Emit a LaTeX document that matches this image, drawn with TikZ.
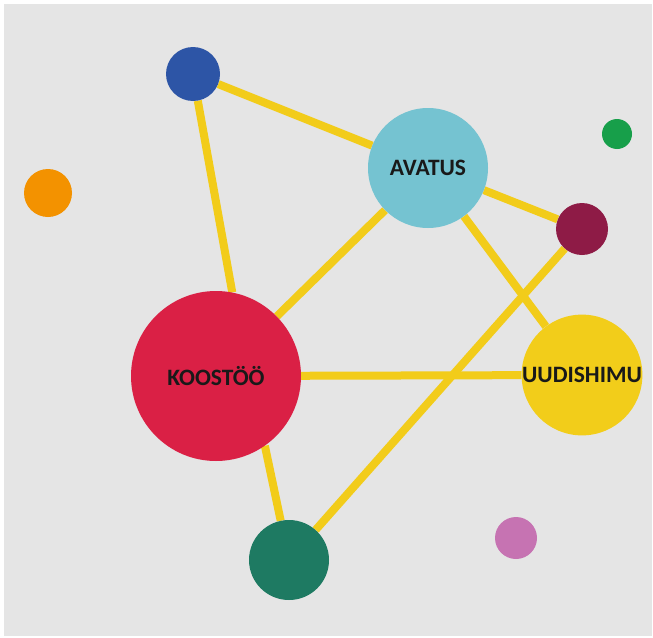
\documentclass[tikz,border=0pt]{standalone}
\usepackage{fontspec}
\setmainfont{Carlito}
\usepackage{tikz}
\usetikzlibrary{positioning}
\usetikzlibrary{backgrounds}
\definecolor{paper}{HTML}{E5E5E5}
\definecolor{linkyellow}{HTML}{F2CC1A}
\definecolor{koored}{HTML}{DA2045}
\definecolor{avablue}{HTML}{75C3D1}
\definecolor{uudyellow}{HTML}{F2CD1A}
\definecolor{dotblue}{HTML}{2D55A6}
\definecolor{dotorange}{HTML}{F39200}
\definecolor{dotgreen}{HTML}{179F4A}
\definecolor{dotmaroon}{HTML}{8E1B46}
\definecolor{dotteal}{HTML}{1E7A62}
\definecolor{dotpink}{HTML}{C673B2}
\pgfdeclarelayer{paperlayer}
\pgfsetlayers{paperlayer,background,main}

\begin{document}
\begin{tikzpicture}[x=1pt,y=-1pt,every node/.style={circle,inner sep=0pt,text=black!90,font=\fontsize{23.5}{28}\selectfont\bfseries}]
\useasboundingbox (0,0) rectangle (653,637);
\begin{pgfonlayer}{paperlayer}
\fill[white] (0,0) rectangle (653,637);
\fill[paper] (4,4) rectangle (652,636);
\end{pgfonlayer}
  \node (1) at (216,376)[fill=koored,minimum size=170pt]{KOOSTÖÖ};
  \node (2) at (193,74)[fill=dotblue,minimum size=54pt]{};
  \node (3) at (428,168)[fill=avablue,minimum size=120pt]{AVATUS};
  \node (4) at (582,375)[fill=uudyellow,minimum size=120pt]{UUDISHIMU};
  \node (5) at (289,560)[fill=dotteal,minimum size=80pt]{};
  \node (6) at (582,229)[fill=dotmaroon,minimum size=52pt]{};
  \node (7) at (48,193)[fill=dotorange,minimum size=48pt]{};
  \node (8) at (617,134)[fill=dotgreen,minimum size=30pt]{};
  \node (9) at (516,538)[fill=dotpink,minimum size=42pt]{};
\begin{pgfonlayer}{background}
  \draw[linkyellow,line width=8pt](1.79)--(2);
  \draw[linkyellow,line width=8pt](2)--(3);
  \draw[linkyellow,line width=8pt](3)--(1);
  \draw[linkyellow,line width=8pt](1)--(4);
  \draw[linkyellow,line width=8pt](4)--(3);
  \draw[linkyellow,line width=8pt](3)--(6);
  \draw[linkyellow,line width=8pt](6)--(5);
  \draw[linkyellow,line width=8pt](5)--(1.-55);
\end{pgfonlayer}
\end{tikzpicture}
\end{document}
